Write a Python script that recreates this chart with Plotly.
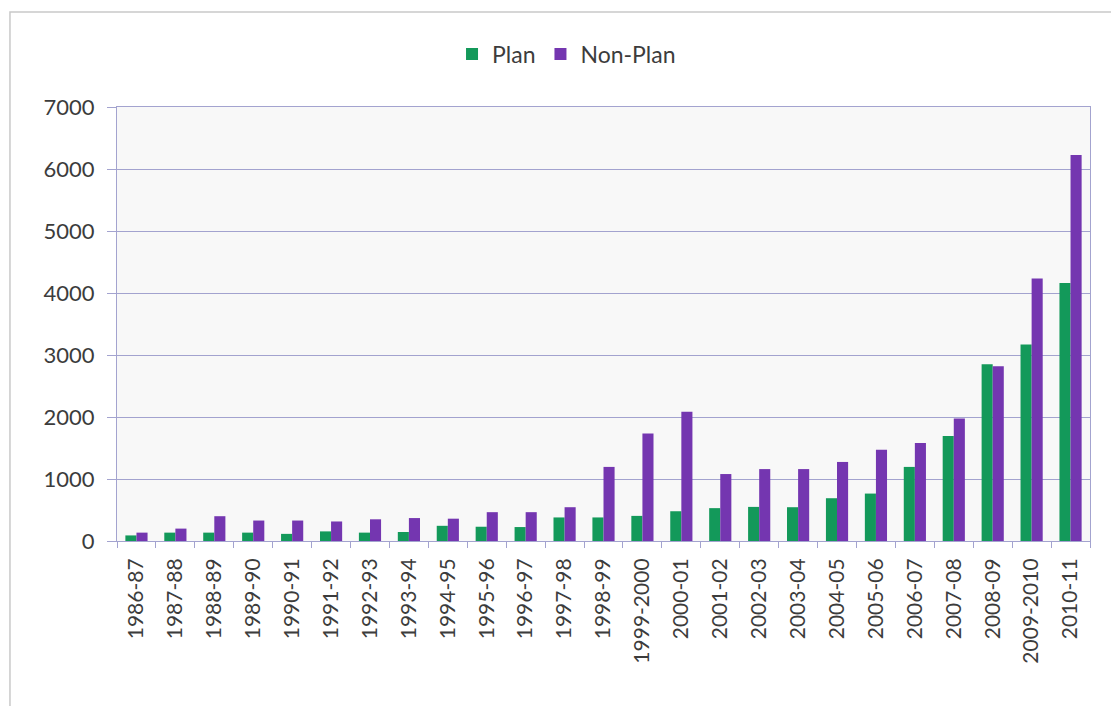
import plotly.graph_objects as go

# Financial years on the category axis
years = ["1986-87", "1987-88", "1988-89", "1989-90", "1990-91", "1991-92",
         "1992-93", "1993-94", "1994-95", "1995-96", "1996-97", "1997-98",
         "1998-99", "1999-2000", "2000-01", "2001-02", "2002-03", "2003-04",
         "2004-05", "2005-06", "2006-07", "2007-08", "2008-09", "2009-2010",
         "2010-11"]

# Expenditure by head
plan = [90, 135, 135, 135, 115, 155, 135, 145, 245, 230, 225, 380,
        380, 405, 480, 530, 550, 545, 690, 765, 1195, 1695, 2850, 3170, 4160]
non_plan = [135, 200, 400, 330, 330, 315, 350, 370, 360, 465, 465, 545,
            1195, 1735, 2085, 1080, 1160, 1160, 1275, 1470, 1580, 1975, 2820,
            4235, 6225]

y_ticks = [0, 1000, 2000, 3000, 4000, 5000, 6000, 7000]

GREEN = "#13995a"
PURPLE = "#7436b0"
GRID = "#a3a3cf"
TEXT = "#3c3c3c"
FONT = "Lato, 'Open Sans', sans-serif"

fig = go.Figure()
fig.add_trace(go.Bar(x=years, y=plan, name="Plan", marker_color=GREEN,
                     marker_line_width=0))
fig.add_trace(go.Bar(x=years, y=non_plan, name="Non-Plan", marker_color=PURPLE,
                     marker_line_width=0))

fig.update_layout(
    width=1111, height=706,
    margin=dict(l=117, r=21, t=107, b=165),
    paper_bgcolor="white",
    plot_bgcolor="#f8f8f8",
    barmode="group",
    bargap=0.43,
    bargroupgap=0,
    font=dict(family=FONT, color=TEXT, size=18),
    legend=dict(orientation="h", x=0.462, y=1.122, xanchor="center",
                yanchor="middle", font=dict(size=23, color=TEXT),
                itemsizing="constant", traceorder="normal",
                itemwidth=30),
    showlegend=True,
)

fig.update_xaxes(
    type="category",
    tickangle=-90,
    tickfont=dict(size=21, color=TEXT),
    showline=True, linecolor=GRID, linewidth=1, mirror=True,
    ticks="outside", ticklen=6, tickcolor=GRID,
    tickson="boundaries",
    ticklabelstandoff=8,
    showgrid=False,
)
fig.update_yaxes(
    range=[0, 7000],
    tickvals=y_ticks,
    tickfont=dict(size=22, color=TEXT),
    showline=True, linecolor=GRID, linewidth=1, mirror=True,
    ticks="outside", ticklen=9, tickcolor=GRID,
    ticklabelstandoff=8,
    showgrid=True, gridcolor=GRID, gridwidth=1,
    zeroline=False,
)

# Outer frame around the whole chart
fig.add_shape(type="rect", xref="paper", yref="paper",
              x0=-0.110, x1=1.03, y0=-0.40, y1=1.219,
              line=dict(color="#c9c9c9", width=1.5), layer="below")

fig.write_html("out.html")
